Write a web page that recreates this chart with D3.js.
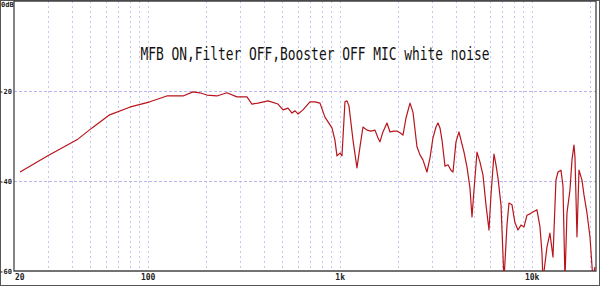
<!DOCTYPE html>
<html>
<head>
<meta charset="utf-8">
<script src="https://cdn.jsdelivr.net/npm/d3@7"></script>
<style>
  html, body { margin: 0; padding: 0; background: #fff; }
  svg { display: block; }
</style>
</head>
<body>
<div class="d3"></div>
<script>
// response curve (Hz, dB)
const freqs = [21.5, 30, 43, 51, 63, 80, 102, 125, 152, 171, 186, 202, 228, 257, 290, 327, 347, 373, 421, 474,
  504, 535, 561, 582, 603, 640, 696, 739, 785, 833, 906, 939, 962, 998, 1022, 1059, 1085, 1111, 1166, 1223,
  1268, 1314, 1379, 1447, 1518, 1573, 1611, 1670, 1753, 1817, 1906, 1976, 2048, 2124, 2202, 2310, 2394, 2512, 2604, 2698,
  2831, 2935, 3043, 3155, 3231, 3310, 3391, 3515, 3644, 3776, 3869, 4010, 4157, 4258, 4415, 4577, 4743, 4859, 4977, 5159,
  5348, 5544, 5746, 5957, 6102, 6325, 6479, 6636, 6880, 7132, 7393, 7573, 7850, 8137, 8434, 8743, 9065, 9396, 9738, 10095,
  10593, 10980, 11247, 11383, 11940, 12378, 12832, 13302, 13626, 14125, 14468, 14820, 15179, 15735, 16119, 16510, 16708, 17113, 17530, 18172,
  18614, 19295, 20000, 20733, 21234];
const levels = [-38.0, -34.4, -30.7, -28.2, -25.3, -23.6, -22.4, -21.1, -21.1, -20.2, -20.4, -20.9, -21.1, -20.4, -21.3, -21.3, -22.9, -22.7, -22.2, -22.9,
  -24.2, -23.8, -24.9, -24.4, -25.1, -24.2, -22.4, -22.4, -22.7, -25.8, -28.2, -30.9, -34.4, -33.8, -34.4, -22.4, -22.2, -23.3, -30.9, -37.1,
  -32.4, -28.0, -28.7, -28.9, -28.7, -30.4, -31.3, -29.1, -27.1, -29.1, -28.9, -28.9, -29.3, -29.8, -26.0, -22.7, -24.7, -32.4, -34.2, -35.3,
  -38.0, -34.9, -30.4, -28.0, -27.1, -28.2, -30.9, -36.7, -36.4, -37.6, -38.0, -31.3, -29.1, -30.9, -33.6, -36.9, -41.6, -48.0, -42.0, -33.6,
  -35.8, -38.7, -45.3, -50.9, -43.1, -34.0, -36.4, -39.3, -45.3, -62, -49.8, -44.9, -45.3, -49.3, -50.9, -49.8, -50.2, -47.6, -47.3, -46.9,
  -46.4, -50.2, -56.0, -62, -54.7, -51.6, -56.9, -39.8, -38.0, -37.6, -41.1, -62, -47.1, -42.0, -35.3, -32.0, -34.7, -52.4, -37.6, -39.8,
  -43.1, -47.1, -52.4, -62, -59.1];

const yTicks = [-20, -40, -60];
const xLabels = [[20, '20'], [100, '100'], [1000, '1k'], [10000, '10k']];
const gridFreqs = [30, 40, 50, 60, 70, 80, 90, 100, 200, 300, 400, 500, 600, 700, 800, 900,
  1000, 2000, 3000, 4000, 5000, 6000, 7000, 8000, 9000, 10000, 20000];
const title = 'MFB ON,Filter OFF,Booster OFF MIC white noise';

let width = 600;
let height = 286;

let svg = d3.select('.d3').append('svg')
  .attr('width', width)
  .attr('height', height);

let x = d3.scaleLog().domain([20, 21500]).range([14, 596]);
let y = d3.scaleLinear().domain([-60, 0]).range([271, 1]);

// outer frame
svg.append('rect')
  .attr('x', 0.5).attr('y', 0.5)
  .attr('width', width - 1).attr('height', height - 1)
  .attr('fill', '#fff')
  .attr('stroke', '#555')
  .attr('stroke-width', 1);

svg.append('defs').append('clipPath').attr('id', 'plot')
  .append('rect')
  .attr('x', x.range()[0]).attr('y', y.range()[1])
  .attr('width', x.range()[1] - x.range()[0])
  .attr('height', y.range()[0] - y.range()[1]);

// grid
svg.append('g')
  .selectAll('line')
  .data(gridFreqs)
  .enter()
  .append('line')
  .attr('x1', d => Math.round(x(d)) + 0.5)
  .attr('x2', d => Math.round(x(d)) + 0.5)
  .attr('y1', y(0))
  .attr('y2', y(-60))
  .attr('stroke', '#c6c6f2')
  .attr('stroke-dasharray', '2,3');

svg.append('g')
  .selectAll('line')
  .data(yTicks.filter(d => d > -60))
  .enter()
  .append('line')
  .attr('x1', x.range()[0])
  .attr('x2', x.range()[1])
  .attr('y1', d => Math.round(y(d)) + 0.5)
  .attr('y2', d => Math.round(y(d)) + 0.5)
  .attr('stroke', '#b8b8ee')
  .attr('stroke-dasharray', '3,2');

// plot border
svg.append('path')
  .attr('d', `M${x.range()[0]},${y.range()[1]}V${y.range()[0]}H${x.range()[1]}V${y.range()[1]}Z`)
  .attr('fill', 'none')
  .attr('stroke', '#444')
  .attr('stroke-width', 1.3);

// curve
let line = d3.line()
  .x((d, i) => x(freqs[i]))
  .y(d => y(d));

svg.append('path')
  .datum(levels)
  .attr('clip-path', 'url(#plot)')
  .attr('fill', 'none')
  .attr('stroke', '#b8141c')
  .attr('stroke-width', 1.2)
  .attr('stroke-linejoin', 'round')
  .attr('d', line);

// y labels
let yl = svg.append('g')
  .attr('font-family', 'DejaVu Sans Mono, monospace')
  .attr('font-size', 7)
  .attr('font-weight', 'bold')
  .attr('fill', '#222');

yl.selectAll('text')
  .data(yTicks)
  .enter()
  .append('text')
  .attr('x', 12)
  .attr('y', d => y(d) + 2.5)
  .attr('text-anchor', 'end')
  .text(d => d);

yl.append('text')
  .attr('x', 1)
  .attr('y', 7)
  .text('0dB');

// x labels
svg.append('g')
  .attr('font-family', 'DejaVu Sans Mono, monospace')
  .attr('font-size', 8)
  .attr('font-weight', 'bold')
  .attr('fill', '#222')
  .selectAll('text')
  .data(xLabels)
  .enter()
  .append('text')
  .attr('x', d => d[0] === 20 ? x(d[0]) + 1 : x(d[0]))
  .attr('y', 280)
  .attr('text-anchor', d => d[0] === 20 ? 'start' : 'middle')
  .text(d => d[1]);

// title
svg.append('text')
  .attr('transform', 'translate(315,60) scale(1,1.38)')
  .attr('text-anchor', 'middle')
  .attr('font-family', 'DejaVu Sans Mono, monospace')
  .attr('font-size', 12.9)
  .attr('fill', '#111')
  .text(title);
</script>
</body>
</html>
